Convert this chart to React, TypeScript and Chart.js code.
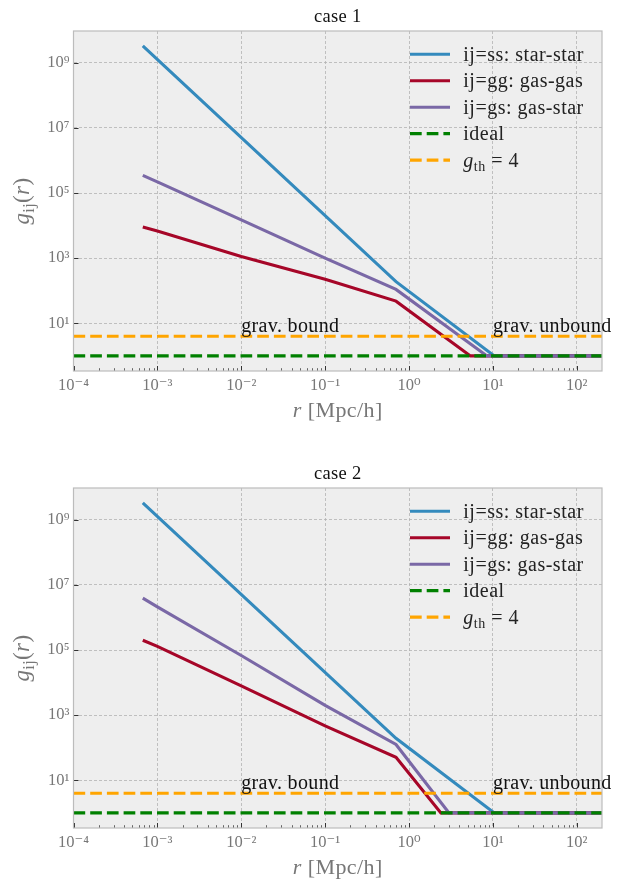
import React, { useEffect, useRef } from 'react';
import { Chart, registerables } from 'chart.js';

Chart.register(...registerables);

// ---------- data ----------
const CASE_TITLES = ['case 1', 'case 2'];
const LEGEND_LABELS = ['ij=ss: star-star', 'ij=gg: gas-gas', 'ij=gs: gas-star', 'ideal'];
const X_TICKS = [1e-4, 1e-3, 1e-2, 1e-1, 1, 10, 100];
const Y_TICKS = [1e1, 1e3, 1e5, 1e7, 1e9];
const X_MIN = 1e-4;
const X_MAX = 200;
const Y_MIN = 0.344;
const Y_MAX = 9.4e9;

// case 1
const R_SS1 = [6.7e-4, 0.7, 10.4, 200];
const G_SS1 = [3.3e9, 190, 1, 1];
const R_GG1 = [6.7e-4, 1e-3, 1e-2, 1e-1, 0.7, 5.4, 200];
const G_GG1 = [9100, 6800, 1120, 224, 48, 1, 1];
const R_GS1 = [6.7e-4, 1e-3, 1e-2, 1e-1, 0.7, 8.5, 200];
const G_GS1 = [3.5e5, 2.2e5, 1.5e4, 1000, 110, 1, 1];

// case 2
const R_SS2 = [6.7e-4, 0.7, 10.4, 200];
const G_SS2 = [3.3e9, 195, 1, 1];
const R_GG2 = [6.7e-4, 1e-3, 1e-2, 1e-1, 0.7, 2.4, 200];
const G_GG2 = [2.0e5, 1.29e5, 7900, 470, 51, 1, 1];
const R_GS2 = [6.7e-4, 1e-3, 1e-2, 1e-1, 0.7, 3.0, 200];
const G_GS2 = [3.9e6, 2.1e6, 6.8e4, 2000, 126, 1, 1];

// reference lines
const IDEAL_R = [1e-4, 200];
const IDEAL_G = [1, 1];
const TH_R = [1e-4, 200];
const TH_G = [4, 4];

// annotations
const ANNOT_TEXT = ['grav. bound', 'grav. unbound'];
const ANNOT_R = [1e-2, 10];
const ANNOT_G = 4;

// ---------- style ----------
const FONT = "'Liberation Serif', 'DejaVu Serif', serif";
const BLUE = '#348ABD';
const RED = '#A60628';
const PURPLE = '#7A68A6';
const GREEN = '#008000';
const ORANGE = '#FFA500';
const LW = 3.1;
const DASH = [11.7, 5];
const TICK_COLOR = '#777777';

const SUP: Record<string, string> = {
  '-': '⁻', '0': '⁰', '1': '¹', '2': '²', '3': '³', '4': '⁴',
  '5': '⁵', '6': '⁶', '7': '⁷', '8': '⁸', '9': '⁹',
};
const pow10Label = (v: number) =>
  '10' + String(Math.round(Math.log10(v))).split('').map((c) => SUP[c]).join('');

const pts = (r: number[], g: number[]) => r.map((x, i) => ({ x, y: g[i] }));

type Part = { t: string; size: number; italic?: boolean; dy?: number };
const fontOf = (p: Part) => `${p.italic ? 'italic ' : ''}${p.size}px ${FONT}`;

function drawRich(
  ctx: CanvasRenderingContext2D,
  parts: Part[],
  x: number,
  y: number,
  align: 'left' | 'center',
  color: string,
  spacing = 0
) {
  const c: any = ctx;
  const prevLS = c.letterSpacing;
  if (spacing) c.letterSpacing = spacing + 'px';
  let w = 0;
  for (const p of parts) {
    ctx.font = fontOf(p);
    w += ctx.measureText(p.t).width;
  }
  let cx = align === 'center' ? x - w / 2 : x;
  ctx.fillStyle = color;
  ctx.textBaseline = 'alphabetic';
  ctx.textAlign = 'left';
  for (const p of parts) {
    ctx.font = fontOf(p);
    ctx.fillText(p.t, cx, y + (p.dy || 0));
    cx += ctx.measureText(p.t).width;
  }
  if (spacing) c.letterSpacing = prevLS || '0px';
}

const decoPlugin = (idx: number) => ({
  id: 'deco' + idx,
  beforeDraw(chart: any) {
    const { ctx, chartArea: a } = chart;
    ctx.save();
    ctx.fillStyle = '#eeeeee';
    ctx.fillRect(a.left, a.top, a.right - a.left, a.bottom - a.top);
    ctx.restore();
  },
  afterDraw(chart: any) {
    const { ctx, chartArea: a } = chart;
    const xs = chart.scales.x;
    const ys = chart.scales.y;
    ctx.save();

    // inward ticks
    ctx.lineWidth = 1;
    for (let e = -4; e <= 2; e++) {
      for (let m = 1; m <= 9; m++) {
        const v = m * Math.pow(10, e);
        if (v <= X_MIN * 0.999 || v >= X_MAX) continue;
        const px = Math.round(xs.getPixelForValue(v)) + 0.5;
        const len = m === 1 ? 5 : 2.8;
        ctx.strokeStyle = m === 1 ? '#333333' : '#666666';
        ctx.beginPath();
        ctx.moveTo(px, a.bottom);
        ctx.lineTo(px, a.bottom - len);
        ctx.stroke();
      }
    }
    ctx.strokeStyle = '#333333';
    for (const v of Y_TICKS) {
      const py = Math.round(ys.getPixelForValue(v)) + 0.5;
      ctx.beginPath();
      ctx.moveTo(a.left, py);
      ctx.lineTo(a.left + 5, py);
      ctx.stroke();
    }

    // frame
    ctx.strokeStyle = '#bcbcbc';
    ctx.lineWidth = 1.2;
    ctx.strokeRect(a.left, a.top, a.right - a.left, a.bottom - a.top);

    // annotations
    const yA = ys.getPixelForValue(ANNOT_G);
    ANNOT_TEXT.forEach((t, i) => {
      drawRich(ctx, [{ t, size: 20 }], xs.getPixelForValue(ANNOT_R[i]), yA - 4.5, 'left', '#111111', 0.35);
    });

    // legend
    const ds = chart.data.datasets;
    const hx0 = a.right - 192;
    const hx1 = a.right - 152;
    const tx = a.right - 138.7;
    for (let i = 0; i < 5; i++) {
      const yy = a.top + 23.3 + i * 26.45;
      ctx.save();
      ctx.strokeStyle = ds[i].borderColor;
      ctx.lineWidth = LW;
      ctx.setLineDash(ds[i].borderDash || []);
      ctx.beginPath();
      ctx.moveTo(hx0, yy);
      ctx.lineTo(hx1, yy);
      ctx.stroke();
      ctx.restore();
      if (i < 4) {
        drawRich(ctx, [{ t: LEGEND_LABELS[i], size: 20 }], tx, yy + 6.5, 'left', '#222222', 0.5);
      } else {
        drawRich(
          ctx,
          [
            { t: 'g', size: 20, italic: true },
            { t: 'th', size: 14, dy: 4 },
            { t: ' = 4', size: 20 },
          ],
          tx, yy + 6.5, 'left', '#222222', 0.5
        );
      }
    }

    // title
    const cx = (a.left + a.right) / 2;
    drawRich(ctx, [{ t: CASE_TITLES[idx], size: 18.5 }], cx, a.top - 9.3, 'center', '#111111', 0.3);

    // x label
    drawRich(
      ctx,
      [
        { t: 'r', size: 22, italic: true },
        { t: ' [Mpc/h]', size: 22 },
      ],
      cx, a.bottom + 46, 'center', TICK_COLOR, 0.4
    );

    // y label
    ctx.save();
    ctx.translate(29, (a.top + a.bottom) / 2);
    ctx.rotate(-Math.PI / 2);
    drawRich(
      ctx,
      [
        { t: 'g', size: 23, italic: true },
        { t: 'ij', size: 16, dy: 4.5 },
        { t: '(', size: 23 },
        { t: 'r', size: 23, italic: true },
        { t: ')', size: 23 },
      ],
      0, 0, 'center', TICK_COLOR, 0.4
    );
    ctx.restore();

    ctx.restore();
  },
});

function makeConfig(idx: number, height: number): any {
  const series = idx === 0
    ? [pts(R_SS1, G_SS1), pts(R_GG1, G_GG1), pts(R_GS1, G_GS1)]
    : [pts(R_SS2, G_SS2), pts(R_GG2, G_GG2), pts(R_GS2, G_GS2)];
  return {
    type: 'line',
    data: {
      datasets: [
        { label: LEGEND_LABELS[0], data: series[0], borderColor: BLUE, borderWidth: LW, order: 4 },
        { label: LEGEND_LABELS[1], data: series[1], borderColor: RED, borderWidth: LW, order: 3 },
        { label: LEGEND_LABELS[2], data: series[2], borderColor: PURPLE, borderWidth: LW, order: 2 },
        { label: LEGEND_LABELS[3], data: pts(IDEAL_R, IDEAL_G), borderColor: GREEN, borderWidth: LW, borderDash: DASH, order: 1 },
        { label: 'g_th = 4', data: pts(TH_R, TH_G), borderColor: ORANGE, borderWidth: LW, borderDash: DASH, order: 0 },
      ],
    },
    options: {
      animation: false,
      responsive: false,
      devicePixelRatio: 1,
      layout: { padding: { top: 31, right: 16, left: 0, bottom: 0 } },
      elements: { point: { radius: 0 }, line: { tension: 0, borderCapStyle: 'butt' } },
      plugins: { legend: { display: false }, title: { display: false }, tooltip: { enabled: false } },
      scales: {
        x: {
          type: 'logarithmic',
          min: X_MIN,
          max: X_MAX,
          bounds: 'data',
          afterFit: (s: any) => { s.height = height - 371; },
          afterBuildTicks: (s: any) => { s.ticks = X_TICKS.map((v) => ({ value: v })); },
          ticks: {
            callback: (v: number) => pow10Label(v),
            color: TICK_COLOR,
            font: { family: FONT, size: 16.5 },
            padding: 5,
            autoSkip: false,
            maxRotation: 0,
          },
          grid: { color: '#b2b2b2', lineWidth: 0.8, drawTicks: false },
          border: { display: false, dash: [3, 2] },
        },
        y: {
          type: 'logarithmic',
          min: Y_MIN,
          max: Y_MAX,
          bounds: 'data',
          afterFit: (s: any) => { s.width = 73.5; },
          afterBuildTicks: (s: any) => { s.ticks = Y_TICKS.map((v) => ({ value: v })); },
          ticks: {
            callback: (v: number) => pow10Label(v),
            color: TICK_COLOR,
            font: { family: FONT, size: 16.5 },
            padding: 4,
            autoSkip: false,
          },
          grid: { color: '#b2b2b2', lineWidth: 0.8, drawTicks: false },
          border: { display: false, dash: [3, 2] },
        },
      },
    },
    plugins: [decoPlugin(idx)],
  };
}

function Panel({ idx, top, height }: { idx: number; top: number; height: number }) {
  const ref = useRef<HTMLCanvasElement>(null);
  useEffect(() => {
    const chart = new Chart(ref.current as HTMLCanvasElement, makeConfig(idx, height));
    return () => chart.destroy();
  }, [idx, height]);
  return (
    <canvas
      ref={ref}
      width={618}
      height={height}
      style={{ position: 'absolute', left: 0, top, width: 618, height, display: 'block' }}
    />
  );
}

export default function App() {
  return (
    <div style={{ position: 'absolute', left: 0, top: 0, width: 618, height: 879, background: '#ffffff' }}>
      <Panel idx={0} top={0} height={422} />
      <Panel idx={1} top={457} height={422} />
    </div>
  );
}
